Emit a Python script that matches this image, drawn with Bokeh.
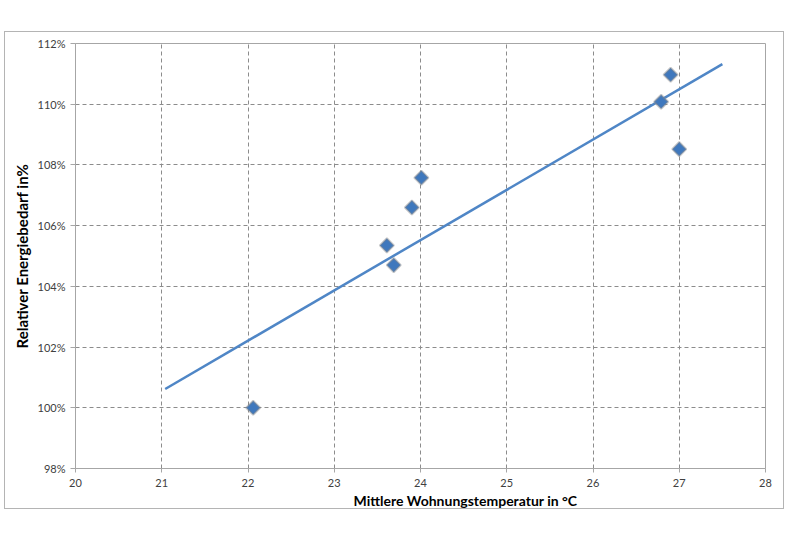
import math
from bokeh.plotting import figure
from bokeh.embed import file_html
from bokeh.resources import INLINE
from bokeh.models import Range1d, FixedTicker, PrintfTickFormatter, Title, ColumnDataSource

# data
temperature = [22.06, 23.61, 23.69, 23.90, 24.01, 26.79, 26.90, 27.00]
energy_pct = [100.0, 105.35, 104.70, 106.60, 107.58, 110.08, 110.97, 108.52]
trend_x = [21.04, 27.50]
trend_y = [100.62, 111.32]
x_ticks = [20, 21, 22, 23, 24, 25, 26, 27, 28]
y_ticks = [98, 100, 102, 104, 106, 108, 110, 112]
x_title = "Mittlere Wohnungstemperatur in °C"
y_title = "Relativer Energiebedarf in%"

FONT = "Lato"

p = figure(width=780, height=478, output_backend="svg", toolbar_location=None,
           x_range=Range1d(20, 28), y_range=Range1d(98, 112),
           min_border_left=70, min_border_right=20, min_border_top=11, min_border_bottom=42)
p.styles = {"margin-top": "31px", "margin-left": "4px", "border": "1px solid #b4b4b4"}

p.outline_line_color = "#a6a6a6"
p.outline_line_width = 1

for ax in (p.xaxis[0], p.yaxis[0]):
    ax.axis_line_color = "#a6a6a6"
    ax.major_tick_line_color = "#a6a6a6"
    ax.minor_tick_line_color = None
    ax.major_tick_in = 0
    ax.major_label_text_font = FONT
    ax.major_label_text_font_size = "11px"
    ax.major_label_text_color = "#404040"

p.xaxis[0].ticker = FixedTicker(ticks=x_ticks)
p.yaxis[0].ticker = FixedTicker(ticks=y_ticks)
p.yaxis[0].formatter = PrintfTickFormatter(format="%d%%")
p.xaxis[0].major_tick_out = 4
p.xaxis[0].major_label_standoff = 6
p.yaxis[0].major_tick_out = 5
p.yaxis[0].major_label_standoff = 5

p.yaxis[0].axis_label = y_title
p.yaxis[0].axis_label_text_font = FONT
p.yaxis[0].axis_label_text_font_size = "15px"
p.yaxis[0].axis_label_text_font_style = "bold"
p.yaxis[0].axis_label_text_color = "#000000"
p.yaxis[0].axis_label_standoff = 4

p.xgrid.ticker = FixedTicker(ticks=x_ticks)
p.ygrid.ticker = FixedTicker(ticks=y_ticks)
for g in (p.xgrid[0], p.ygrid[0]):
    g.grid_line_color = "#8c8c8c"
    g.grid_line_dash = "4 3"
    g.grid_line_width = 1

src = ColumnDataSource(dict(x=temperature, y=energy_pct))
p.line(trend_x, trend_y, line_color="#4f86c6", line_width=2.5)
p.scatter("x", "y", source=src, marker="square", size=10, angle=math.pi / 4,
          fill_color="#3f78bd", line_color="#8a8a8a", line_alpha=0.45, line_width=2)

xt = Title(text=x_title, align="left", offset=278, text_font=FONT, text_font_size="14px",
           text_font_style="bold", text_color="#000000", standoff=0)
p.add_layout(xt, "below")

open("out.html", "w").write(file_html(p, INLINE))
